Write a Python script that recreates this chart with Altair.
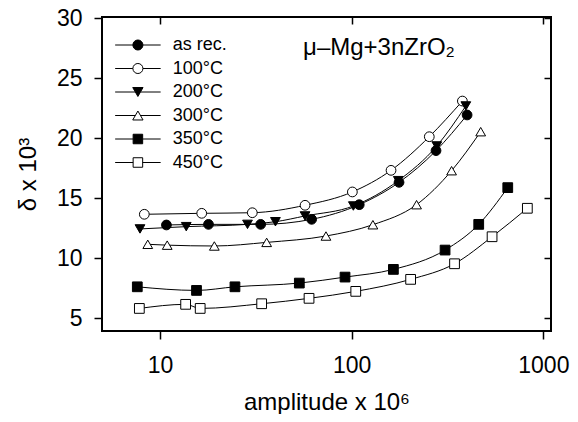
import altair as alt
import pandas as pd

FONT = "Liberation Sans, Arial, Helvetica, sans-serif"

series = ["as rec.", "100°C", "200°C", "300°C", "350°C", "450°C"]

asrec_x = [10.8, 17.9, 33.5, 61.8, 109.5, 176.6, 275.4, 400]
asrec_y = [12.78, 12.83, 12.83, 13.25, 14.47, 16.33, 18.97, 21.94]
c100_x = [8.28, 16.5, 30.3, 57.1, 100.8, 160.4, 254, 378]
c100_y = [13.67, 13.75, 13.8, 14.42, 15.53, 17.33, 20.13, 23.1]
c200_x = [7.86, 13.7, 28.6, 40, 57.1, 102, 175, 278, 394]
c200_y = [12.45, 12.64, 12.83, 13.05, 13.53, 14.36, 16.47, 19.36, 22.69]
c300_x = [8.63, 10.9, 19.2, 36, 73.4, 129, 218, 332, 471]
c300_y = [11.17, 11.1, 11.03, 11.33, 11.86, 12.8, 14.47, 17.3, 20.55]
c350_x = [7.61, 15.5, 24.6, 53.3, 92.3, 165, 307, 460, 652]
c350_y = [7.63, 7.33, 7.63, 7.94, 8.44, 9.08, 10.69, 12.83, 15.89]
c450_x = [7.8, 13.6, 16.2, 33.9, 59.9, 105, 203, 344, 540, 825]
c450_y = [5.83, 6.17, 5.83, 6.22, 6.67, 7.25, 8.25, 9.55, 11.8, 14.17]

x_ticks = [10, 100, 1000]
y_ticks = [5, 10, 15, 20, 25, 30]

ann_text = ["μ–Mg+3nZrO₂"]
ann_x = [55.75]
ann_y = [26.94]

fills = ["black", "white", "black", "white", "black", "white"]
strokes = ["black"] * 6
shapes = ["circle", "circle", "triangle-down", "triangle-up", "square", "square"]
legend_paths = [
    "M-4.3,0L-0.95,0M0.95,0L4.3,0M0.95,0A0.95,0.95,0,1,1,-0.95,0A0.95,0.95,0,1,1,0.95,0Z",
    "M-4.3,0L-0.95,0M0.95,0L4.3,0M0.95,0A0.95,0.95,0,1,1,-0.95,0A0.95,0.95,0,1,1,0.95,0Z",
    "M-4.3,0L-0.49,0M0.49,0L4.3,0M0,0.845L-0.975,-0.845L0.975,-0.845Z",
    "M-4.3,0L-0.49,0M0.49,0L4.3,0M0,-0.845L-0.975,0.845L0.975,0.845Z",
    "M-4.3,0L-0.9,0M0.9,0L4.3,0M-0.9,-0.9L0.9,-0.9L0.9,0.9L-0.9,0.9Z",
    "M-4.3,0L-0.9,0M0.9,0L4.3,0M-0.9,-0.9L0.9,-0.9L0.9,0.9L-0.9,0.9Z",
]

rows = []
for name, xs, ys in zip(series,
                        [asrec_x, c100_x, c200_x, c300_x, c350_x, c450_x],
                        [asrec_y, c100_y, c200_y, c300_y, c350_y, c450_y]):
    for xv, yv in zip(xs, ys):
        rows.append({"series": name, "x": xv, "y": yv})
df = pd.DataFrame(rows)
ann = pd.DataFrame({"x": ann_x, "y": ann_y, "t": ann_text})

xscale = alt.Scale(type="log", domain=[4.98, 1096], nice=False)
yscale = alt.Scale(domain=[3.95, 30.1], nice=False, zero=False)

xaxis = alt.Axis(orient="bottom", values=x_ticks, format="d", title="amplitude x 10⁶",
                 tickSize=8, tickWidth=1.5, tickColor="black", labelPadding=15,
                 titlePadding=13, labelFontSize=23, titleFontSize=24, grid=False,
                 domain=False, labelFont=FONT, titleFont=FONT, titleFontWeight="normal",
                 labelColor="black", titleColor="black", labelFlush=False,
                 labelOverlap=False)
yaxis = alt.Axis(orient="left", values=y_ticks, title="δ x 10³",
                 tickSize=8, tickWidth=1.5, tickColor="black", labelPadding=12,
                 titlePadding=16, labelFontSize=23, titleFontSize=24, grid=False,
                 domain=False, labelFont=FONT, titleFont=FONT, titleFontWeight="normal",
                 labelColor="black", titleColor="black", labelOverlap=False)

base = alt.Chart(df)

lines = base.mark_line(interpolate="monotone", color="black", strokeWidth=1).encode(
    x=alt.X("x:Q", scale=xscale, axis=xaxis),
    y=alt.Y("y:Q", scale=yscale, axis=yaxis),
    detail="series:N",
)

points = base.mark_point(filled=True, stroke="black", strokeWidth=1, size=95,
                         opacity=1, fillOpacity=1).encode(
    x=alt.X("x:Q", scale=xscale, axis=None),
    y=alt.Y("y:Q", scale=yscale, axis=None),
    shape=alt.Shape("series:N", scale=alt.Scale(domain=series, range=shapes), legend=None),
    fill=alt.Fill("series:N", scale=alt.Scale(domain=series, range=fills), legend=None),
)

mirror = base.mark_point(opacity=0).encode(
    x=alt.X("x:Q", scale=xscale,
            axis=alt.Axis(orient="top", values=x_ticks, labels=False, title=None,
                          domain=False, grid=False, tickSize=7, offset=-7,
                          tickWidth=1.5, tickColor="black")),
    y=alt.Y("y:Q", scale=yscale,
            axis=alt.Axis(orient="right", values=y_ticks, labels=False, title=None,
                          domain=False, grid=False, tickSize=7, offset=-7,
                          tickWidth=1.5, tickColor="black")),
)

leg = alt.Legend(title=None, orient="none", legendX=26.9, legendY=19, symbolSize=112,
                 symbolStrokeWidth=1, labelFontSize=18,
                 labelFont=FONT, labelColor="black", labelOffset=25.9, rowPadding=5.5,
                 padding=0, symbolOpacity=1)

legend_layer = base.transform_filter("datum.x < 0").mark_point(
    filled=True, strokeWidth=1, opacity=1, fillOpacity=1).encode(
    x=alt.X("x:Q", scale=xscale, axis=None),
    y=alt.Y("y:Q", scale=yscale, axis=None),
    shape=alt.Shape("series:N", scale=alt.Scale(domain=series, range=legend_paths), legend=leg),
    fill=alt.Fill("series:N", scale=alt.Scale(domain=series, range=fills), legend=leg),
    stroke=alt.Stroke("series:N", scale=alt.Scale(domain=series, range=strokes), legend=leg),
)

label = alt.Chart(ann).mark_text(align="left", baseline="alphabetic", fontSize=24,
                                 font=FONT, color="black").encode(
    x=alt.X("x:Q", scale=xscale, axis=None),
    y=alt.Y("y:Q", scale=yscale, axis=None),
    text="t:N",
)

chart = alt.layer(lines, points, mirror, legend_layer, label).resolve_scale(
    shape="independent", fill="independent", stroke="independent"
).resolve_axis(x="independent", y="independent").properties(
    width=449, height=314,
    autosize=alt.AutoSizeParams(type="none"),
    padding={"left": 94, "top": 9, "right": 19, "bottom": 83},
).configure(background="white").configure_view(stroke="black", strokeWidth=2)

chart.save("out.html", embed_options={"renderer": "svg", "actions": False})
